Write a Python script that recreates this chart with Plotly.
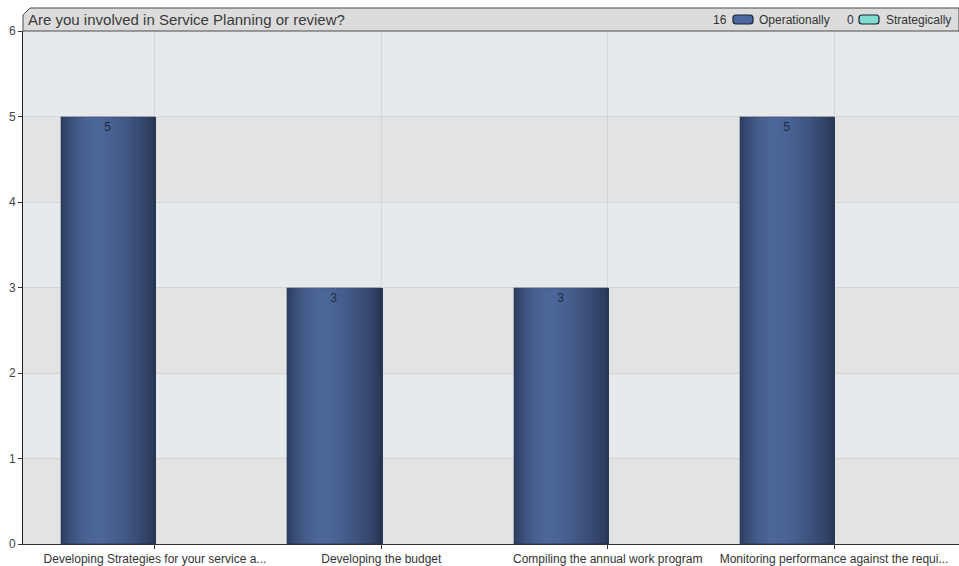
import plotly.graph_objects as go

# ---- data ----
categories = [
    "Developing Strategies for your service a...",
    "Developing the budget",
    "Compiling the annual work program",
    "Monitoring performance against the requi...",
]
operationally = [5, 3, 3, 5]
strategically = [0, 0, 0, 0]
series_names = ["Operationally", "Strategically"]
y_ticks = [0, 1, 2, 3, 4, 5, 6]
title_text = "Are you involved in Service Planning or review?"

# ---- layout constants ----
W, H = 959, 566
ML, MR, MT, MB = 23, 0, 31, 22
PW, PH = W - ML - MR, H - MT - MB

def px_x(px):
    return (px - ML) / PW

def px_y(py):
    return (H - MB - py) / PH

x_idx = list(range(len(categories)))
bar_w = 0.415
N = 48

edge_l = (44, 61, 95)
peak = (76, 102, 153)
edge_r = (41, 56, 88)
pk = 0.38

def grad(t):
    if t <= pk:
        f = t / pk
        a, b = edge_l, peak
        f = 1 - (1 - f) ** 2
    else:
        f = (t - pk) / (1 - pk)
        a, b = peak, edge_r
        f = f ** 1.6
    c = [round(a[i] + (b[i] - a[i]) * f) for i in range(3)]
    return "rgb(%d,%d,%d)" % tuple(c)

fig = go.Figure()

# gradient strips for Operationally bars
for i in range(N):
    t = (i + 0.5) / N
    fig.add_trace(go.Bar(
        x=x_idx, y=operationally, width=bar_w / N * 1.6,
        offset=-bar_w + i * bar_w / N,
        marker=dict(color=grad(t), line=dict(width=0)),
        showlegend=False, hoverinfo="skip",
    ))

# label trace
fig.add_trace(go.Bar(
    x=x_idx, y=operationally, width=bar_w, offset=-bar_w,
    marker=dict(color="rgba(0,0,0,0)", line=dict(width=0.6, color="rgba(30,40,60,0.6)")),
    text=[str(v) for v in operationally], textposition="inside",
    insidetextanchor="end", constraintext="none",
    textfont=dict(family="Liberation Sans, Arial", size=12, color="#1f2b45"),
    showlegend=False, name=series_names[0],
))
# Strategically (zero values)
fig.add_trace(go.Bar(
    x=x_idx, y=strategically, width=bar_w, offset=0,
    marker=dict(color="#7fdcd0", line=dict(width=0)),
    showlegend=False, name=series_names[1],
))

shapes = []
# alternating background bands
for k in range(len(y_ticks) - 1):
    shapes.append(dict(
        type="rect", xref="paper", yref="y", x0=0, x1=1,
        y0=y_ticks[k], y1=y_ticks[k + 1],
        fillcolor="#e3e3e4" if k % 2 == 0 else "#e6eaed",
        line=dict(width=0), layer="below",
    ))

# header bar with cut corner
ytop = px_y(8)
cut = 7
shapes.append(dict(
    type="path", xref="paper", yref="paper",
    path="M 0,1 L 0,%f L %f,%f L 1,%f L 1,1 Z" % (px_y(8 + cut), px_x(ML + cut), ytop, ytop),
    fillcolor="#dcdcdc", line=dict(color="#4a4a4a", width=1), layer="above",
))

# legend swatches (rounded)
def swatch(x0p, x1p, y0p, y1p, fill, line):
    r = 3
    x0, x1 = px_x(x0p), px_x(x1p)
    y0, y1 = px_y(y1p), px_y(y0p)
    rx, ry = r / PW, r / PH
    p = ("M %f,%f L %f,%f Q %f,%f %f,%f L %f,%f Q %f,%f %f,%f L %f,%f Q %f,%f %f,%f L %f,%f Q %f,%f %f,%f Z" % (
        x0 + rx, y0, x1 - rx, y0, x1, y0, x1, y0 + ry, x1, y1 - ry, x1, y1, x1 - rx, y1,
        x0 + rx, y1, x0, y1, x0, y1 - ry, x0, y0 + ry, x0, y0, x0 + rx, y0))
    return dict(type="path", xref="paper", yref="paper", path=p,
                fillcolor=fill, line=dict(color=line, width=1.2), layer="above")

shapes.append(swatch(733, 753, 15, 24, "#4d67a0", "#1a2234"))
shapes.append(swatch(859, 879, 15, 24, "#7fdcd0", "#1a2234"))

annotations = [
    dict(xref="paper", yref="paper", x=px_x(26), y=px_y(19.5), xanchor="left", yanchor="middle",
         text=title_text, showarrow=False,
         font=dict(family="Liberation Sans, Arial", size=15, color="#3a3a3a")),
    dict(xref="paper", yref="paper", x=px_x(729), y=px_y(20), xanchor="right", yanchor="middle",
         text=str(sum(operationally)), showarrow=False,
         font=dict(family="Liberation Sans, Arial", size=12, color="#333333")),
    dict(xref="paper", yref="paper", x=px_x(757), y=px_y(20), xanchor="left", yanchor="middle",
         text=series_names[0], showarrow=False,
         font=dict(family="Liberation Sans, Arial", size=12, color="#333333")),
    dict(xref="paper", yref="paper", x=px_x(856), y=px_y(20), xanchor="right", yanchor="middle",
         text=str(sum(strategically)), showarrow=False,
         font=dict(family="Liberation Sans, Arial", size=12, color="#333333")),
    dict(xref="paper", yref="paper", x=px_x(884), y=px_y(20), xanchor="left", yanchor="middle",
         text=series_names[1], showarrow=False,
         font=dict(family="Liberation Sans, Arial", size=12, color="#333333")),
]

fig.update_layout(
    width=W, height=H,
    margin=dict(l=ML, r=MR, t=MT, b=MB, pad=0),
    paper_bgcolor="white", plot_bgcolor="rgba(0,0,0,0)",
    barmode="overlay", bargap=0,
    shapes=shapes, annotations=annotations,
    xaxis=dict(
        range=[-0.583, 3.552], tickmode="array", tickvals=x_idx, ticktext=categories,
        showgrid=True, gridcolor="#d3d6d9", gridwidth=1,
        showline=True, linecolor="#333333", linewidth=1,
        ticks="outside", ticklen=4, tickcolor="#333333",
        tickfont=dict(family="Liberation Sans, Arial", size=12, color="#333333"),
        zeroline=False, fixedrange=True,
    ),
    yaxis=dict(
        range=[0, 6], tickmode="array", tickvals=y_ticks,
        showgrid=True, gridcolor="#d3d6d9", gridwidth=1,
        showline=True, linecolor="#222222", linewidth=1,
        ticks="outside", ticklen=4, tickcolor="#333333",
        tickfont=dict(family="Liberation Sans, Arial", size=12, color="#444444"),
        zeroline=False, fixedrange=True,
    ),
    showlegend=False,
)

fig.write_html("out.html")
